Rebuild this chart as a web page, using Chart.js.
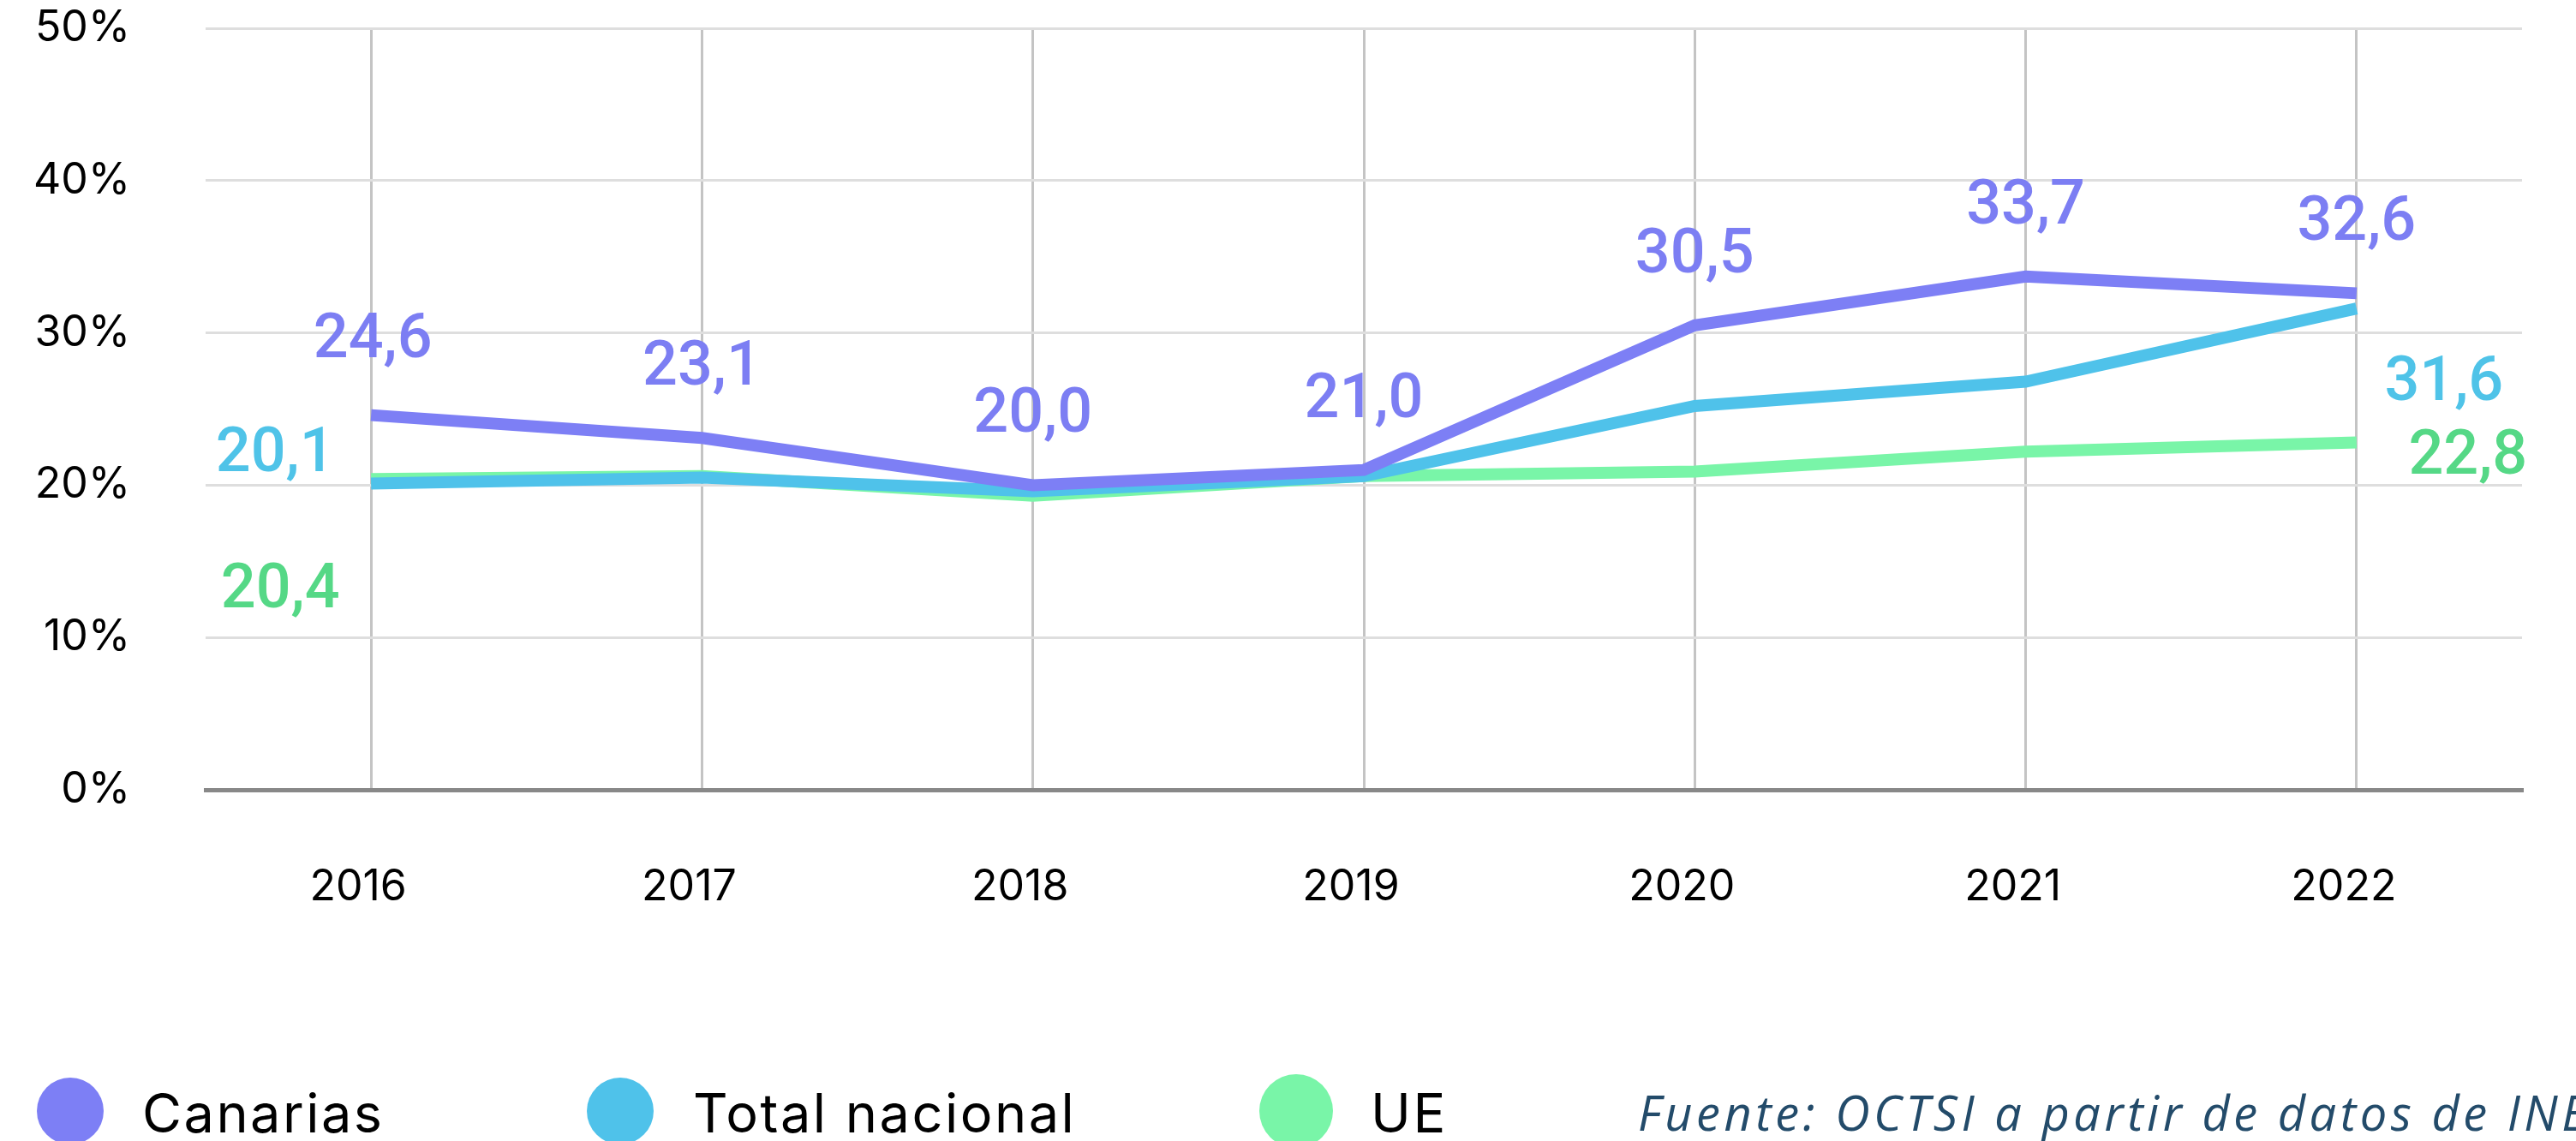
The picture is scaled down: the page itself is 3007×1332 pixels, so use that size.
<!DOCTYPE html>
<html>
<head>
<meta charset="utf-8">
<script src="https://cdn.jsdelivr.net/npm/chart.js@4"></script>
<style>
  html, body { margin: 0; padding: 0; background: #fff; }
  #chart { display: block; }
</style>
</head>
<body>
<canvas id="chart" width="3007" height="1332"></canvas>
<script>
// Data
const years = ['2016', '2017', '2018', '2019', '2020', '2021', '2022'];
const canarias = [24.6, 23.1, 20.0, 21.0, 30.5, 33.7, 32.6];
const totalNacional = [20.1, 20.5, 19.6, 20.6, 25.2, 26.8, 31.6];
const ue = [20.4, 20.6, 19.3, 20.6, 20.9, 22.2, 22.8];
const yTicks = [0, 10, 20, 30, 40, 50];
const sourceNote = 'Fuente: OCTSI a partir de datos de INE';

// Which points carry a value label, and where it sits relative to the point (px)
const labelOffsets = [
    [[2, -86], [0, -80], [0, -80], [0, -80], [0, -80], [0, -80], [0, -80]],
    [[-112, -33], null, null, null, null, null, [102, 89]],
    [[-106, 132], null, null, null, null, null, [130, 18]]
];
const labelColors = ['#7c7ef3', '#4fc3e8', '#55d886'];

// Legend layout
const legendCircleX = [82, 724, 1513];
const legendRadius = [39, 39, 43];
const legendTextX = [166, 809, 1600];
const legendY = 1297;

const fmt = v => v.toFixed(1).replace('.', ',');

const valueLabels = {
    id: 'valueLabels',
    afterDatasetsDraw(chart) {
        const ctx = chart.ctx;
        ctx.save();
        ctx.font = '500 72px Roboto';
        ctx.textAlign = 'center';
        ctx.textBaseline = 'middle';
        chart.data.datasets.forEach((ds, i) => {
            const meta = chart.getDatasetMeta(i);
            meta.data.forEach((pt, j) => {
                const off = labelOffsets[i][j];
                if (!off) return;
                ctx.fillStyle = labelColors[i];
                ctx.fillText(fmt(ds.data[j]), pt.x + off[0], pt.y + off[1]);
            });
        });
        ctx.restore();
    }
};

const bottomLegend = {
    id: 'bottomLegend',
    afterDraw(chart) {
        const ctx = chart.ctx;
        ctx.save();
        chart.data.datasets.forEach((ds, i) => {
            ctx.fillStyle = ds.borderColor;
            ctx.beginPath();
            ctx.arc(legendCircleX[i], legendY, legendRadius[i], 0, Math.PI * 2);
            ctx.fill();
            ctx.fillStyle = '#000';
            ctx.font = '400 63px Inter';
            ctx.letterSpacing = '2.5px';
            ctx.textAlign = 'left';
            ctx.textBaseline = 'alphabetic';
            ctx.fillText(ds.label, legendTextX[i], 1322);
        });
        ctx.fillStyle = '#234b6a';
        ctx.font = 'italic 400 56px "Open Sans"';
        ctx.letterSpacing = '4.5px';
        ctx.fillText(sourceNote, 1912, 1320);
        ctx.restore();
    }
};

new Chart(document.getElementById('chart'), {
    type: 'line',
    data: {
        labels: years,
        datasets: [
            { label: 'Canarias', data: canarias, borderColor: '#7d7ff5' },
            { label: 'Total nacional', data: totalNacional, borderColor: '#4fc2ea' },
            { label: 'UE', data: ue, borderColor: '#79f5a8' }
        ].map(d => Object.assign(d, {
            borderWidth: 14,
            pointRadius: 0,
            pointHoverRadius: 0,
            tension: 0,
            fill: false
        }))
    },
    options: {
        responsive: false,
        devicePixelRatio: 1,
        animation: false,
        layout: { autoPadding: false, padding: { left: 0, right: 63, top: 33, bottom: 260 } },
        plugins: { legend: { display: false }, tooltip: { enabled: false } },
        scales: {
            x: {
                offset: true,
                grid: { offset: false, color: '#c4c4c4', lineWidth: 3, drawTicks: false },
                border: { color: '#888888', width: 5 },
                ticks: { color: '#000', padding: 84, labelOffset: -15, font: { family: 'Inter', size: 50 } },
                afterFit: s => { s.height = 150; }
            },
            y: {
                min: 0,
                max: 50,
                afterBuildTicks: s => { s.ticks = yTicks.map(v => ({ value: v })); },
                grid: { color: '#dedede', lineWidth: 3, drawTicks: false },
                border: { display: false },
                ticks: { color: '#000', padding: 88, font: { family: 'Inter', size: 50 }, callback: v => v + '%' },
                // tick padding would otherwise push the plot top down
                afterFit: s => { s.width = 240; s.paddingTop = 0; s.paddingBottom = 0; }
            }
        }
    },
    plugins: [valueLabels, bottomLegend]
});
</script>
</body>
</html>
